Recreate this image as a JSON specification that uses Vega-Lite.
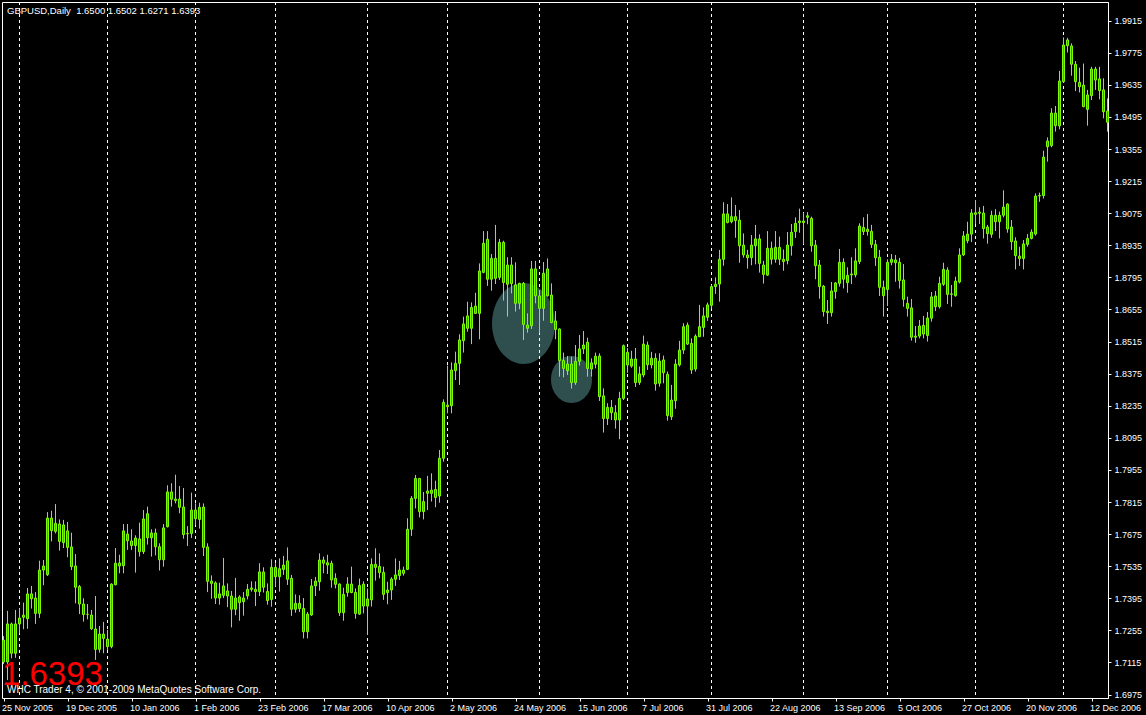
{
"$schema": "https://vega.github.io/schema/vega-lite/v6.json",
"width": 1106,
"height": 696,
"autosize": {"type": "none"},
"padding": {"left": 2, "top": 2, "right": 38, "bottom": 17},
"background": "black",
"config": {
  "view": {"stroke": "white", "strokeWidth": 1},
  "axis": {"grid": false, "domainColor": "white", "tickColor": "white", "labelColor": "white", "labelFont": "Liberation Sans", "labelFontSize": 9, "domainWidth": 1, "tickWidth": 1}
},
"datasets": {
"candles": [
{"d":"2005-11-25","o":1.7213,"h":1.7230,"l":1.7108,"c":1.7117},
{"d":"2005-11-28","o":1.7117,"h":1.7340,"l":1.7038,"c":1.7283},
{"d":"2005-11-29","o":1.7283,"h":1.7289,"l":1.7133,"c":1.7155},
{"d":"2005-11-30","o":1.7155,"h":1.7344,"l":1.7135,"c":1.7283},
{"d":"2005-12-01","o":1.7283,"h":1.7351,"l":1.7242,"c":1.7309},
{"d":"2005-12-02","o":1.7312,"h":1.7376,"l":1.7260,"c":1.7321},
{"d":"2005-12-05","o":1.7306,"h":1.7440,"l":1.7262,"c":1.7414},
{"d":"2005-12-06","o":1.7414,"h":1.7449,"l":1.7350,"c":1.7393},
{"d":"2005-12-07","o":1.7396,"h":1.7422,"l":1.7283,"c":1.7329},
{"d":"2005-12-08","o":1.7329,"h":1.7559,"l":1.7309,"c":1.7518},
{"d":"2005-12-09","o":1.7518,"h":1.7562,"l":1.7452,"c":1.7536},
{"d":"2005-12-12","o":1.7498,"h":1.7771,"l":1.7492,"c":1.7745},
{"d":"2005-12-13","o":1.7745,"h":1.7777,"l":1.7643,"c":1.7690},
{"d":"2005-12-14","o":1.7687,"h":1.7806,"l":1.7678,"c":1.7722},
{"d":"2005-12-15","o":1.7719,"h":1.7739,"l":1.7603,"c":1.7643},
{"d":"2005-12-16","o":1.7638,"h":1.7737,"l":1.7614,"c":1.7715},
{"d":"2005-12-19","o":1.7689,"h":1.7728,"l":1.7574,"c":1.7617},
{"d":"2005-12-20","o":1.7619,"h":1.7681,"l":1.7518,"c":1.7533},
{"d":"2005-12-21","o":1.7536,"h":1.7588,"l":1.7373,"c":1.7443},
{"d":"2005-12-22","o":1.7446,"h":1.7453,"l":1.7326,"c":1.7370},
{"d":"2005-12-23","o":1.7370,"h":1.7395,"l":1.7293,"c":1.7324},
{"d":"2005-12-26","o":1.7325,"h":1.7370,"l":1.7303,"c":1.7325},
{"d":"2005-12-27","o":1.7322,"h":1.7344,"l":1.7257,"c":1.7262},
{"d":"2005-12-28","o":1.7261,"h":1.7405,"l":1.7126,"c":1.7172},
{"d":"2005-12-29","o":1.7172,"h":1.7274,"l":1.7158,"c":1.7239},
{"d":"2005-12-30","o":1.7239,"h":1.7292,"l":1.7155,"c":1.7220},
{"d":"2006-01-02","o":1.7217,"h":1.7257,"l":1.7169,"c":1.7184},
{"d":"2006-01-03","o":1.7184,"h":1.7460,"l":1.7177,"c":1.7457},
{"d":"2006-01-04","o":1.7454,"h":1.7614,"l":1.7452,"c":1.7548},
{"d":"2006-01-05","o":1.7549,"h":1.7585,"l":1.7504,"c":1.7536},
{"d":"2006-01-06","o":1.7537,"h":1.7719,"l":1.7504,"c":1.7689},
{"d":"2006-01-09","o":1.7675,"h":1.7719,"l":1.7606,"c":1.7646},
{"d":"2006-01-10","o":1.7645,"h":1.7696,"l":1.7606,"c":1.7625},
{"d":"2006-01-11","o":1.7625,"h":1.7670,"l":1.7507,"c":1.7658},
{"d":"2006-01-12","o":1.7654,"h":1.7725,"l":1.7577,"c":1.7598},
{"d":"2006-01-13","o":1.7598,"h":1.7780,"l":1.7588,"c":1.7741},
{"d":"2006-01-16","o":1.7764,"h":1.7795,"l":1.7629,"c":1.7659},
{"d":"2006-01-17","o":1.7659,"h":1.7696,"l":1.7577,"c":1.7680},
{"d":"2006-01-18","o":1.7680,"h":1.7699,"l":1.7582,"c":1.7620},
{"d":"2006-01-19","o":1.7620,"h":1.7635,"l":1.7516,"c":1.7563},
{"d":"2006-01-20","o":1.7563,"h":1.7719,"l":1.7533,"c":1.7702},
{"d":"2006-01-23","o":1.7707,"h":1.7888,"l":1.7704,"c":1.7859},
{"d":"2006-01-24","o":1.7859,"h":1.7897,"l":1.7795,"c":1.7827},
{"d":"2006-01-25","o":1.7828,"h":1.7934,"l":1.7809,"c":1.7821},
{"d":"2006-01-26","o":1.7828,"h":1.7885,"l":1.7766,"c":1.7792},
{"d":"2006-01-27","o":1.7793,"h":1.7876,"l":1.7655,"c":1.7673},
{"d":"2006-01-30","o":1.7676,"h":1.7710,"l":1.7623,"c":1.7678},
{"d":"2006-01-31","o":1.7678,"h":1.7856,"l":1.7658,"c":1.7780},
{"d":"2006-02-01","o":1.7780,"h":1.7809,"l":1.7716,"c":1.7742},
{"d":"2006-02-02","o":1.7739,"h":1.7812,"l":1.7699,"c":1.7792},
{"d":"2006-02-03","o":1.7793,"h":1.7809,"l":1.7579,"c":1.7617},
{"d":"2006-02-06","o":1.7619,"h":1.7635,"l":1.7422,"c":1.7469},
{"d":"2006-02-07","o":1.7470,"h":1.7495,"l":1.7393,"c":1.7460},
{"d":"2006-02-08","o":1.7462,"h":1.7469,"l":1.7370,"c":1.7396},
{"d":"2006-02-09","o":1.7396,"h":1.7463,"l":1.7367,"c":1.7414},
{"d":"2006-02-10","o":1.7408,"h":1.7571,"l":1.7396,"c":1.7449},
{"d":"2006-02-13","o":1.7427,"h":1.7460,"l":1.7356,"c":1.7405},
{"d":"2006-02-14","o":1.7405,"h":1.7427,"l":1.7268,"c":1.7347},
{"d":"2006-02-15","o":1.7347,"h":1.7484,"l":1.7321,"c":1.7396},
{"d":"2006-02-16","o":1.7401,"h":1.7408,"l":1.7297,"c":1.7376},
{"d":"2006-02-17","o":1.7380,"h":1.7422,"l":1.7319,"c":1.7396},
{"d":"2006-02-20","o":1.7405,"h":1.7457,"l":1.7390,"c":1.7434},
{"d":"2006-02-21","o":1.7434,"h":1.7469,"l":1.7424,"c":1.7440},
{"d":"2006-02-22","o":1.7434,"h":1.7469,"l":1.7361,"c":1.7424},
{"d":"2006-02-23","o":1.7424,"h":1.7548,"l":1.7405,"c":1.7510},
{"d":"2006-02-24","o":1.7510,"h":1.7530,"l":1.7420,"c":1.7443},
{"d":"2006-02-27","o":1.7425,"h":1.7460,"l":1.7367,"c":1.7385},
{"d":"2006-02-28","o":1.7390,"h":1.7565,"l":1.7358,"c":1.7530},
{"d":"2006-03-01","o":1.7530,"h":1.7548,"l":1.7446,"c":1.7489},
{"d":"2006-03-02","o":1.7489,"h":1.7569,"l":1.7424,"c":1.7524},
{"d":"2006-03-03","o":1.7521,"h":1.7580,"l":1.7497,"c":1.7540},
{"d":"2006-03-06","o":1.7558,"h":1.7617,"l":1.7453,"c":1.7478},
{"d":"2006-03-07","o":1.7482,"h":1.7497,"l":1.7318,"c":1.7347},
{"d":"2006-03-08","o":1.7347,"h":1.7412,"l":1.7332,"c":1.7373},
{"d":"2006-03-09","o":1.7373,"h":1.7408,"l":1.7335,"c":1.7350},
{"d":"2006-03-10","o":1.7351,"h":1.7396,"l":1.7220,"c":1.7249},
{"d":"2006-03-13","o":1.7249,"h":1.7335,"l":1.7220,"c":1.7326},
{"d":"2006-03-14","o":1.7322,"h":1.7479,"l":1.7318,"c":1.7449},
{"d":"2006-03-15","o":1.7449,"h":1.7488,"l":1.7405,"c":1.7470},
{"d":"2006-03-16","o":1.7467,"h":1.7591,"l":1.7428,"c":1.7562},
{"d":"2006-03-17","o":1.7562,"h":1.7577,"l":1.7504,"c":1.7548},
{"d":"2006-03-20","o":1.7550,"h":1.7585,"l":1.7501,"c":1.7540},
{"d":"2006-03-21","o":1.7548,"h":1.7559,"l":1.7441,"c":1.7475},
{"d":"2006-03-22","o":1.7482,"h":1.7504,"l":1.7438,"c":1.7456},
{"d":"2006-03-23","o":1.7457,"h":1.7460,"l":1.7318,"c":1.7332},
{"d":"2006-03-24","o":1.7332,"h":1.7441,"l":1.7297,"c":1.7412},
{"d":"2006-03-27","o":1.7420,"h":1.7487,"l":1.7402,"c":1.7457},
{"d":"2006-03-28","o":1.7457,"h":1.7533,"l":1.7417,"c":1.7420},
{"d":"2006-03-29","o":1.7421,"h":1.7438,"l":1.7306,"c":1.7329},
{"d":"2006-03-30","o":1.7326,"h":1.7481,"l":1.7322,"c":1.7451},
{"d":"2006-03-31","o":1.7457,"h":1.7469,"l":1.7329,"c":1.7361},
{"d":"2006-04-03","o":1.7361,"h":1.7438,"l":1.7235,"c":1.7392},
{"d":"2006-04-04","o":1.7388,"h":1.7569,"l":1.7359,"c":1.7543},
{"d":"2006-04-05","o":1.7543,"h":1.7613,"l":1.7472,"c":1.7530},
{"d":"2006-04-06","o":1.7534,"h":1.7591,"l":1.7482,"c":1.7507},
{"d":"2006-04-07","o":1.7508,"h":1.7533,"l":1.7388,"c":1.7412},
{"d":"2006-04-10","o":1.7420,"h":1.7467,"l":1.7369,"c":1.7431},
{"d":"2006-04-11","o":1.7431,"h":1.7487,"l":1.7388,"c":1.7479},
{"d":"2006-04-12","o":1.7478,"h":1.7569,"l":1.7449,"c":1.7497},
{"d":"2006-04-13","o":1.7494,"h":1.7558,"l":1.7475,"c":1.7518},
{"d":"2006-04-14","o":1.7518,"h":1.7533,"l":1.7494,"c":1.7504},
{"d":"2006-04-17","o":1.7521,"h":1.7744,"l":1.7518,"c":1.7696},
{"d":"2006-04-18","o":1.7696,"h":1.7841,"l":1.7667,"c":1.7831},
{"d":"2006-04-19","o":1.7831,"h":1.7933,"l":1.7787,"c":1.7918},
{"d":"2006-04-20","o":1.7918,"h":1.7920,"l":1.7748,"c":1.7773},
{"d":"2006-04-21","o":1.7773,"h":1.7859,"l":1.7739,"c":1.7817},
{"d":"2006-04-24","o":1.7863,"h":1.7929,"l":1.7780,"c":1.7853},
{"d":"2006-04-25","o":1.7853,"h":1.7940,"l":1.7817,"c":1.7867},
{"d":"2006-04-26","o":1.7870,"h":1.7908,"l":1.7792,"c":1.7835},
{"d":"2006-04-27","o":1.7841,"h":1.8042,"l":1.7812,"c":1.8006},
{"d":"2006-04-28","o":1.8006,"h":1.8263,"l":1.7991,"c":1.8250},
{"d":"2006-05-01","o":1.8238,"h":1.8410,"l":1.8202,"c":1.8231},
{"d":"2006-05-02","o":1.8235,"h":1.8424,"l":1.8202,"c":1.8391},
{"d":"2006-05-03","o":1.8388,"h":1.8471,"l":1.8347,"c":1.8420},
{"d":"2006-05-04","o":1.8420,"h":1.8547,"l":1.8326,"c":1.8522},
{"d":"2006-05-05","o":1.8519,"h":1.8624,"l":1.8467,"c":1.8592},
{"d":"2006-05-08","o":1.8627,"h":1.8689,"l":1.8558,"c":1.8573},
{"d":"2006-05-09","o":1.8573,"h":1.8686,"l":1.8504,"c":1.8664},
{"d":"2006-05-10","o":1.8670,"h":1.8728,"l":1.8635,"c":1.8638},
{"d":"2006-05-11","o":1.8638,"h":1.8856,"l":1.8525,"c":1.8823},
{"d":"2006-05-12","o":1.8817,"h":1.8997,"l":1.8813,"c":1.8944},
{"d":"2006-05-15","o":1.8961,"h":1.8997,"l":1.8758,"c":1.8787},
{"d":"2006-05-16","o":1.8787,"h":1.8897,"l":1.8737,"c":1.8878},
{"d":"2006-05-17","o":1.8878,"h":1.9024,"l":1.8766,"c":1.8791},
{"d":"2006-05-18","o":1.8795,"h":1.8963,"l":1.8784,"c":1.8948},
{"d":"2006-05-19","o":1.8948,"h":1.8955,"l":1.8694,"c":1.8773},
{"d":"2006-05-22","o":1.8765,"h":1.8883,"l":1.8624,"c":1.8849},
{"d":"2006-05-23","o":1.8849,"h":1.8883,"l":1.8725,"c":1.8768},
{"d":"2006-05-24","o":1.8762,"h":1.8861,"l":1.8646,"c":1.8682},
{"d":"2006-05-25","o":1.8682,"h":1.8772,"l":1.8656,"c":1.8769},
{"d":"2006-05-26","o":1.8769,"h":1.8775,"l":1.8522,"c":1.8590},
{"d":"2006-05-29","o":1.8573,"h":1.8638,"l":1.8554,"c":1.8587},
{"d":"2006-05-30","o":1.8584,"h":1.8867,"l":1.8570,"c":1.8832},
{"d":"2006-05-31","o":1.8832,"h":1.8867,"l":1.8682,"c":1.8715},
{"d":"2006-06-01","o":1.8714,"h":1.8740,"l":1.8551,"c":1.8660},
{"d":"2006-06-02","o":1.8660,"h":1.8862,"l":1.8606,"c":1.8813},
{"d":"2006-06-05","o":1.8832,"h":1.8878,"l":1.8711,"c":1.8715},
{"d":"2006-06-06","o":1.8718,"h":1.8769,"l":1.8595,"c":1.8598},
{"d":"2006-06-07","o":1.8605,"h":1.8648,"l":1.8525,"c":1.8568},
{"d":"2006-06-08","o":1.8570,"h":1.8573,"l":1.8362,"c":1.8432},
{"d":"2006-06-09","o":1.8432,"h":1.8467,"l":1.8359,"c":1.8398},
{"d":"2006-06-12","o":1.8388,"h":1.8452,"l":1.8369,"c":1.8417},
{"d":"2006-06-13","o":1.8417,"h":1.8449,"l":1.8310,"c":1.8336},
{"d":"2006-06-14","o":1.8336,"h":1.8500,"l":1.8326,"c":1.8429},
{"d":"2006-06-15","o":1.8429,"h":1.8544,"l":1.8410,"c":1.8483},
{"d":"2006-06-16","o":1.8483,"h":1.8561,"l":1.8461,"c":1.8500},
{"d":"2006-06-19","o":1.8512,"h":1.8532,"l":1.8362,"c":1.8398},
{"d":"2006-06-20","o":1.8395,"h":1.8442,"l":1.8362,"c":1.8422},
{"d":"2006-06-21","o":1.8416,"h":1.8467,"l":1.8398,"c":1.8451},
{"d":"2006-06-22","o":1.8452,"h":1.8464,"l":1.8256,"c":1.8275},
{"d":"2006-06-23","o":1.8278,"h":1.8311,"l":1.8118,"c":1.8179},
{"d":"2006-06-26","o":1.8179,"h":1.8246,"l":1.8151,"c":1.8228},
{"d":"2006-06-27","o":1.8228,"h":1.8260,"l":1.8173,"c":1.8205},
{"d":"2006-06-28","o":1.8205,"h":1.8238,"l":1.8135,"c":1.8173},
{"d":"2006-06-29","o":1.8173,"h":1.8296,"l":1.8089,"c":1.8267},
{"d":"2006-06-30","o":1.8267,"h":1.8502,"l":1.8260,"c":1.8497},
{"d":"2006-07-03","o":1.8468,"h":1.8487,"l":1.8379,"c":1.8413},
{"d":"2006-07-04","o":1.8408,"h":1.8475,"l":1.8401,"c":1.8439},
{"d":"2006-07-05","o":1.8439,"h":1.8487,"l":1.8317,"c":1.8336},
{"d":"2006-07-06","o":1.8336,"h":1.8406,"l":1.8326,"c":1.8374},
{"d":"2006-07-07","o":1.8369,"h":1.8541,"l":1.8359,"c":1.8504},
{"d":"2006-07-10","o":1.8500,"h":1.8515,"l":1.8391,"c":1.8414},
{"d":"2006-07-11","o":1.8413,"h":1.8470,"l":1.8398,"c":1.8442},
{"d":"2006-07-12","o":1.8442,"h":1.8464,"l":1.8301,"c":1.8330},
{"d":"2006-07-13","o":1.8333,"h":1.8464,"l":1.8318,"c":1.8430},
{"d":"2006-07-14","o":1.8435,"h":1.8454,"l":1.8333,"c":1.8379},
{"d":"2006-07-17","o":1.8372,"h":1.8384,"l":1.8170,"c":1.8192},
{"d":"2006-07-18","o":1.8187,"h":1.8326,"l":1.8173,"c":1.8260},
{"d":"2006-07-19","o":1.8257,"h":1.8438,"l":1.8222,"c":1.8417},
{"d":"2006-07-20","o":1.8413,"h":1.8518,"l":1.8406,"c":1.8478},
{"d":"2006-07-21","o":1.8478,"h":1.8595,"l":1.8461,"c":1.8580},
{"d":"2006-07-24","o":1.8587,"h":1.8598,"l":1.8500,"c":1.8504},
{"d":"2006-07-25","o":1.8507,"h":1.8529,"l":1.8374,"c":1.8391},
{"d":"2006-07-26","o":1.8395,"h":1.8547,"l":1.8384,"c":1.8539},
{"d":"2006-07-27","o":1.8536,"h":1.8675,"l":1.8536,"c":1.8580},
{"d":"2006-07-28","o":1.8577,"h":1.8664,"l":1.8536,"c":1.8627},
{"d":"2006-07-31","o":1.8621,"h":1.8685,"l":1.8605,"c":1.8675},
{"d":"2006-08-01","o":1.8673,"h":1.8762,"l":1.8660,"c":1.8755},
{"d":"2006-08-02","o":1.8755,"h":1.8795,"l":1.8723,"c":1.8765},
{"d":"2006-08-03","o":1.8766,"h":1.8915,"l":1.8689,"c":1.8874},
{"d":"2006-08-04","o":1.8874,"h":1.9123,"l":1.8846,"c":1.9072},
{"d":"2006-08-07","o":1.9072,"h":1.9115,"l":1.9031,"c":1.9034},
{"d":"2006-08-08","o":1.9038,"h":1.9144,"l":1.9031,"c":1.9060},
{"d":"2006-08-09","o":1.9060,"h":1.9111,"l":1.8968,"c":1.9043},
{"d":"2006-08-10","o":1.9045,"h":1.9089,"l":1.8859,"c":1.8933},
{"d":"2006-08-11","o":1.8936,"h":1.8987,"l":1.8881,"c":1.8893},
{"d":"2006-08-14","o":1.8893,"h":1.8915,"l":1.8833,"c":1.8881},
{"d":"2006-08-15","o":1.8881,"h":1.8980,"l":1.8848,"c":1.8936},
{"d":"2006-08-16","o":1.8933,"h":1.9024,"l":1.8852,"c":1.8963},
{"d":"2006-08-17","o":1.8963,"h":1.8983,"l":1.8816,"c":1.8856},
{"d":"2006-08-18","o":1.8849,"h":1.8867,"l":1.8768,"c":1.8808},
{"d":"2006-08-21","o":1.8805,"h":1.8997,"l":1.8802,"c":1.8922},
{"d":"2006-08-22","o":1.8922,"h":1.8951,"l":1.8851,"c":1.8874},
{"d":"2006-08-23","o":1.8874,"h":1.8997,"l":1.8859,"c":1.8926},
{"d":"2006-08-24","o":1.8926,"h":1.8973,"l":1.8849,"c":1.8874},
{"d":"2006-08-25","o":1.8874,"h":1.8917,"l":1.8824,"c":1.8864},
{"d":"2006-08-28","o":1.8868,"h":1.8993,"l":1.8852,"c":1.8936},
{"d":"2006-08-29","o":1.8933,"h":1.9028,"l":1.8890,"c":1.8992},
{"d":"2006-08-30","o":1.8995,"h":1.9057,"l":1.8967,"c":1.9031},
{"d":"2006-08-31","o":1.9034,"h":1.9095,"l":1.8990,"c":1.9041},
{"d":"2006-09-01","o":1.9041,"h":1.9077,"l":1.8941,"c":1.9034},
{"d":"2006-09-04","o":1.9057,"h":1.9080,"l":1.9027,"c":1.9064},
{"d":"2006-09-05","o":1.9053,"h":1.9060,"l":1.8907,"c":1.8933},
{"d":"2006-09-06","o":1.8936,"h":1.8958,"l":1.8787,"c":1.8846},
{"d":"2006-09-07","o":1.8849,"h":1.8871,"l":1.8702,"c":1.8755},
{"d":"2006-09-08","o":1.8757,"h":1.8762,"l":1.8624,"c":1.8646},
{"d":"2006-09-11","o":1.8648,"h":1.8696,"l":1.8592,"c":1.8641},
{"d":"2006-09-12","o":1.8641,"h":1.8775,"l":1.8624,"c":1.8736},
{"d":"2006-09-13","o":1.8733,"h":1.8775,"l":1.8702,"c":1.8771},
{"d":"2006-09-14","o":1.8769,"h":1.8919,"l":1.8755,"c":1.8861},
{"d":"2006-09-15","o":1.8861,"h":1.8878,"l":1.8747,"c":1.8787},
{"d":"2006-09-18","o":1.8772,"h":1.8839,"l":1.8728,"c":1.8804},
{"d":"2006-09-19","o":1.8806,"h":1.8883,"l":1.8766,"c":1.8810},
{"d":"2006-09-20","o":1.8806,"h":1.8922,"l":1.8795,"c":1.8867},
{"d":"2006-09-21","o":1.8864,"h":1.9031,"l":1.8853,"c":1.9019},
{"d":"2006-09-22","o":1.9013,"h":1.9057,"l":1.8980,"c":1.8995},
{"d":"2006-09-25","o":1.9005,"h":1.9072,"l":1.8977,"c":1.8995},
{"d":"2006-09-26","o":1.8996,"h":1.9024,"l":1.8923,"c":1.8939},
{"d":"2006-09-27","o":1.8939,"h":1.8958,"l":1.8845,"c":1.8881},
{"d":"2006-09-28","o":1.8883,"h":1.8915,"l":1.8714,"c":1.8752},
{"d":"2006-09-29","o":1.8752,"h":1.8781,"l":1.8624,"c":1.8715},
{"d":"2006-10-02","o":1.8742,"h":1.8874,"l":1.8670,"c":1.8861},
{"d":"2006-10-03","o":1.8861,"h":1.8897,"l":1.8848,"c":1.8874},
{"d":"2006-10-04","o":1.8859,"h":1.8893,"l":1.8776,"c":1.8871},
{"d":"2006-10-05","o":1.8861,"h":1.8880,"l":1.8746,"c":1.8781},
{"d":"2006-10-06","o":1.8784,"h":1.8853,"l":1.8667,"c":1.8699},
{"d":"2006-10-09","o":1.8682,"h":1.8711,"l":1.8624,"c":1.8660},
{"d":"2006-10-10","o":1.8662,"h":1.8701,"l":1.8519,"c":1.8534},
{"d":"2006-10-11","o":1.8534,"h":1.8583,"l":1.8510,"c":1.8539},
{"d":"2006-10-12","o":1.8539,"h":1.8609,"l":1.8529,"c":1.8583},
{"d":"2006-10-13","o":1.8586,"h":1.8627,"l":1.8529,"c":1.8548},
{"d":"2006-10-16","o":1.8542,"h":1.8644,"l":1.8515,"c":1.8618},
{"d":"2006-10-17","o":1.8617,"h":1.8731,"l":1.8602,"c":1.8710},
{"d":"2006-10-18","o":1.8714,"h":1.8736,"l":1.8648,"c":1.8667},
{"d":"2006-10-19","o":1.8667,"h":1.8798,"l":1.8659,"c":1.8769},
{"d":"2006-10-20","o":1.8765,"h":1.8859,"l":1.8758,"c":1.8830},
{"d":"2006-10-23","o":1.8827,"h":1.8839,"l":1.8679,"c":1.8721},
{"d":"2006-10-24","o":1.8721,"h":1.8762,"l":1.8667,"c":1.8723},
{"d":"2006-10-25","o":1.8715,"h":1.8798,"l":1.8711,"c":1.8779},
{"d":"2006-10-26","o":1.8775,"h":1.8922,"l":1.8769,"c":1.8893},
{"d":"2006-10-27","o":1.8893,"h":1.8997,"l":1.8888,"c":1.8976},
{"d":"2006-10-30","o":1.8955,"h":1.9038,"l":1.8944,"c":1.8984},
{"d":"2006-10-31","o":1.8984,"h":1.9093,"l":1.8949,"c":1.9076},
{"d":"2006-11-01","o":1.9077,"h":1.9133,"l":1.9028,"c":1.9070},
{"d":"2006-11-02","o":1.9075,"h":1.9101,"l":1.9028,"c":1.9080},
{"d":"2006-11-03","o":1.9076,"h":1.9107,"l":1.8965,"c":1.9008},
{"d":"2006-11-06","o":1.9015,"h":1.9024,"l":1.8942,"c":1.8986},
{"d":"2006-11-07","o":1.8983,"h":1.9086,"l":1.8968,"c":1.9066},
{"d":"2006-11-08","o":1.9066,"h":1.9093,"l":1.8997,"c":1.9038},
{"d":"2006-11-09","o":1.9038,"h":1.9082,"l":1.8965,"c":1.9066},
{"d":"2006-11-10","o":1.9066,"h":1.9175,"l":1.9057,"c":1.9102},
{"d":"2006-11-13","o":1.9115,"h":1.9118,"l":1.8990,"c":1.9006},
{"d":"2006-11-14","o":1.9015,"h":1.9045,"l":1.8915,"c":1.8951},
{"d":"2006-11-15","o":1.8954,"h":1.8970,"l":1.8830,"c":1.8890},
{"d":"2006-11-16","o":1.8888,"h":1.8929,"l":1.8845,"c":1.8877},
{"d":"2006-11-17","o":1.8877,"h":1.8958,"l":1.8830,"c":1.8941},
{"d":"2006-11-20","o":1.8939,"h":1.8984,"l":1.8929,"c":1.8965},
{"d":"2006-11-21","o":1.8965,"h":1.9005,"l":1.8961,"c":1.8993},
{"d":"2006-11-22","o":1.8984,"h":1.9162,"l":1.8977,"c":1.9150},
{"d":"2006-11-23","o":1.9150,"h":1.9165,"l":1.9125,"c":1.9152},
{"d":"2006-11-24","o":1.9152,"h":1.9348,"l":1.9139,"c":1.9320},
{"d":"2006-11-27","o":1.9390,"h":1.9406,"l":1.9300,"c":1.9365},
{"d":"2006-11-28","o":1.9370,"h":1.9533,"l":1.9363,"c":1.9512},
{"d":"2006-11-29","o":1.9512,"h":1.9543,"l":1.9431,"c":1.9457},
{"d":"2006-11-30","o":1.9456,"h":1.9696,"l":1.9441,"c":1.9652},
{"d":"2006-12-01","o":1.9649,"h":1.9842,"l":1.9645,"c":1.9809},
{"d":"2006-12-04","o":1.9831,"h":1.9840,"l":1.9776,"c":1.9806},
{"d":"2006-12-05","o":1.9805,"h":1.9816,"l":1.9675,"c":1.9725},
{"d":"2006-12-06","o":1.9725,"h":1.9739,"l":1.9608,"c":1.9649},
{"d":"2006-12-07","o":1.9646,"h":1.9710,"l":1.9602,"c":1.9627},
{"d":"2006-12-08","o":1.9634,"h":1.9728,"l":1.9537,"c":1.9540},
{"d":"2006-12-11","o":1.9528,"h":1.9613,"l":1.9457,"c":1.9591},
{"d":"2006-12-12","o":1.9588,"h":1.9714,"l":1.9569,"c":1.9704},
{"d":"2006-12-13","o":1.9704,"h":1.9714,"l":1.9613,"c":1.9656},
{"d":"2006-12-14","o":1.9661,"h":1.9714,"l":1.9572,"c":1.9610},
{"d":"2006-12-15","o":1.9613,"h":1.9664,"l":1.9489,"c":1.9518},
{"d":"2006-12-18","o":1.9521,"h":1.9576,"l":1.9431,"c":1.9472}
]
},
"layer": [
{
  "data": {"name": "candles"},
  "mark": {"type": "bar", "width": 2, "stroke": "#7CFC00", "strokeWidth": 1, "orient": "vertical", "opacity": 0},
  "encoding": {
    "x": {"field": "d", "type": "ordinal", "scale": {"type": "point", "range": [1.5, 1105.5], "padding": 0},
      "axis": {"title": null, "values": ["2005-11-25","2005-12-19","2006-01-10","2006-02-01","2006-02-23","2006-03-17","2006-04-10","2006-05-02","2006-05-24","2006-06-15","2006-07-07","2006-07-31","2006-08-22","2006-09-13","2006-10-05","2006-10-27","2006-11-20","2006-12-12"],
        "labelExpr": "utcFormat(toDate(datum.value), '%-d %b %Y')", "tickSize": 3, "labelAlign": "left", "labelBaseline": "alphabetic", "labelPadding": 9, "labelOffset": -2, "labelOverlap": false, "labelFlush": false, "labelAngle": 0}},
    "y": {"field": "o", "type": "quantitative", "scale": {"domain": [1.69599, 1.99966], "nice": false, "zero": false},
      "axis": {"title": null, "orient": "right", "tickCount": 100, "values": [1.6975,1.7115,1.7255,1.7395,1.7535,1.7675,1.7815,1.7955,1.8095,1.8235,1.8375,1.8515,1.8655,1.8795,1.8935,1.9075,1.9215,1.9355,1.9495,1.9635,1.9775,1.9915],
        "format": ".4f", "tickSize": 3, "labelPadding": 3, "labelBaseline": "middle", "labelOverlap": false, "labelFlush": false}},
    "y2": {"field": "c"}
  }
},
{
  "data": {"values": [{"d": "2006-05-26", "p": 1.8594}]},
  "mark": {"type": "point", "filled": true, "shape": "M -1 0 A 1 1.286 0 1 0 1 0 A 1 1.286 0 1 0 -1 0 Z", "size": 3969, "color": "#2F4F4F", "opacity": 1, "strokeWidth": 0},
  "encoding": {
    "x": {"field": "d", "type": "ordinal"},
    "y": {"field": "p", "type": "quantitative"}
  }
},
{
  "data": {"values": [{"d": "2006-06-13", "p": 1.8350}]},
  "mark": {"type": "point", "filled": true, "shape": "M -1 0 A 1 1.146 0 1 0 1 0 A 1 1.146 0 1 0 -1 0 Z", "size": 1681, "color": "#2F4F4F", "opacity": 1, "strokeWidth": 0},
  "encoding": {
    "x": {"field": "d", "type": "ordinal"},
    "y": {"field": "p", "type": "quantitative"}
  }
},
{
  "data": {"values": [{"d":"2005-12-01"},{"d":"2006-01-02"},{"d":"2006-02-01"},{"d":"2006-03-01"},{"d":"2006-04-03"},{"d":"2006-05-01"},{"d":"2006-06-01"},{"d":"2006-07-03"},{"d":"2006-08-01"},{"d":"2006-09-01"},{"d":"2006-10-02"},{"d":"2006-11-01"},{"d":"2006-12-01"}]},
  "mark": {"type": "rule", "stroke": "white", "strokeWidth": 1, "strokeDash": [3, 3]},
  "encoding": {
    "x": {"field": "d", "type": "ordinal"}
  }
},
{
  "data": {"name": "candles"},
  "mark": {"type": "rule", "stroke": "#7CFC00", "strokeWidth": 1},
  "encoding": {
    "x": {"field": "d", "type": "ordinal"},
    "y": {"field": "l", "type": "quantitative"},
    "y2": {"field": "h"}
  }
},
{
  "data": {"name": "candles"},
  "mark": {"type": "bar", "width": 2, "stroke": "#7CFC00", "strokeWidth": 1, "orient": "vertical"},
  "encoding": {
    "x": {"field": "d", "type": "ordinal"},
    "y": {"field": "o", "type": "quantitative"},
    "y2": {"field": "c"},
    "fill": {"condition": {"test": "datum.c >= datum.o", "value": "#1E90FF"}, "value": "#FF3300"}
  }
},
{
  "data": {"values": [{"t": "GBPUSD,Daily\u00a0\u00a01.6500 1.6502 1.6271 1.6393"}]},
  "mark": {"type": "text", "align": "left", "baseline": "middle", "font": "Liberation Sans", "fontSize": 9.5, "color": "white", "dx": 3.5},
  "encoding": {
    "x": {"datum": "2005-11-25", "type": "ordinal"},
    "y": {"datum": 1.9957, "type": "quantitative"},
    "text": {"field": "t"}
  }
},
{
  "data": {"values": [{"t": "WHC Trader 4, © 2001-2009 MetaQuotes Software Corp."}]},
  "mark": {"type": "text", "align": "left", "baseline": "alphabetic", "font": "Liberation Sans", "fontSize": 10, "color": "white", "dx": 3.5},
  "encoding": {
    "x": {"datum": "2005-11-25", "type": "ordinal"},
    "y": {"datum": 1.6980, "type": "quantitative"},
    "text": {"field": "t"}
  }
},
{
  "data": {"values": [{"t": "1.6393"}]},
  "mark": {"type": "text", "align": "left", "baseline": "alphabetic", "font": "Liberation Sans", "fontSize": 33, "color": "#FF0000", "dx": -1.5},
  "encoding": {
    "x": {"datum": "2005-11-25", "type": "ordinal"},
    "y": {"datum": 1.7017, "type": "quantitative"},
    "text": {"field": "t"}
  }
}
]
}
